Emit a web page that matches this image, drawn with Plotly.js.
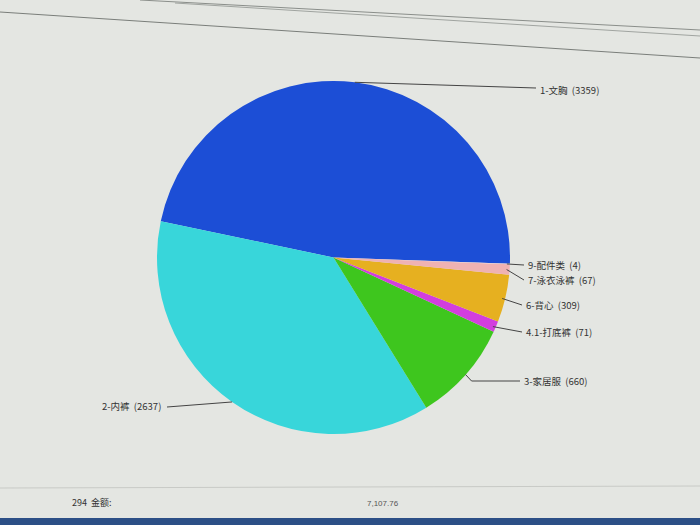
<!DOCTYPE html>
<html><head><meta charset="utf-8">
<script src="https://cdn.plot.ly/plotly-3.0.1.min.js"></script>
<style>html,body{margin:0;padding:0;background:#e4e6e2;}</style>
</head><body><div id="chart" style="width:700px;height:525px;"></div>
<script>
// Data
const categories = ["1-文胸", "2-内裤", "3-家居服", "4.1-打底裤", "6-背心", "7-泳衣泳裤", "9-配件类"];
const values = [3359, 2637, 660, 71, 309, 67, 4];
const colors = ["#1c4ed6", "#38d6da", "#3ec61e", "#d23ede", "#e6b020", "#efb2b2", "#f4d4d4"];

// Layout constants (pixel positions in 700x525)
const W = 700, H = 525;
const pie = {x0: 157, x1: 510, y0: 80, y1: 435};
const startAngle = -2;            // math angle (deg, ccw from 3 o'clock) where first slice begins
const total = values.reduce((a, b) => a + b, 0);
// plotly (ccw) places the end of the first slice at 90 - rotation
const plotlyRotation = 90 - startAngle - values[0] / total * 360;
// label anchor (text start / end), in px
const labelPos = [
  {x: 538, y: 90, side: "left"},
  {x: 163, y: 406, side: "right"},
  {x: 522, y: 381, side: "left"},
  {x: 524, y: 332, side: "left"},
  {x: 524, y: 305, side: "left"},
  {x: 526, y: 280, side: "left"},
  {x: 526, y: 265, side: "left"}
];

const cx = (pie.x0 + pie.x1) / 2, cy = (pie.y0 + pie.y1) / 2;
const R = Math.min(pie.x1 - pie.x0, pie.y1 - pie.y0) / 2;
const px = v => v / W, py = v => 1 - v / H;

const shapes = [], annotations = [];
let acc = 0;
values.forEach((v, i) => {
  const start = startAngle + acc / total * 360;
  const mid = start + v / total * 180;
  acc += v;
  const a = mid * Math.PI / 180;
  const ex = cx + R * Math.cos(a), ey = cy - R * Math.sin(a);
  const lp = labelPos[i];
  let path;
  if (i === 0) {
    path = `M ${px(ex)} ${py(ey)} L ${px(lp.x - 2)} ${py(lp.y - 2)}`;
  } else if (i === 1) {
    path = `M ${px(ex)} ${py(ey)} L ${px(lp.x + 4)} ${py(lp.y + 1)}`;
  } else if (i === 2) {
    path = `M ${px(ex)} ${py(ey)} L ${px(ex + 6)} ${py(lp.y)} L ${px(lp.x - 2)} ${py(lp.y)}`;
  } else {
    path = `M ${px(ex - 3)} ${py(ey)} L ${px(lp.x - 2)} ${py(lp.y)}`;
  }
  shapes.push({type: "path", xref: "paper", yref: "paper", path: path,
    line: {color: "#444", width: 1}});
  annotations.push({xref: "paper", yref: "paper", x: px(lp.x), y: py(lp.y),
    xanchor: lp.side, yanchor: "middle", showarrow: false,
    text: categories[i] + "  (" + values[i] + ")",
    font: {family: "Noto Sans CJK SC, Liberation Serif", size: 9.5, color: "#333"}});
});

// screen decorations
shapes.push({type: "line", xref: "paper", yref: "paper", x0: 0, y0: py(12), x1: 1, y1: py(58), line: {color: "#7a7e7a", width: 1}});
shapes.push({type: "line", xref: "paper", yref: "paper", x0: 0.2, y0: py(0), x1: 1, y1: py(30), line: {color: "#8a8e8a", width: 1}});
shapes.push({type: "line", xref: "paper", yref: "paper", x0: 0.25, y0: py(3), x1: 1, y1: py(36), line: {color: "#a0a4a0", width: 1}});
shapes.push({type: "line", xref: "paper", yref: "paper", x0: 0, y0: py(488), x1: 1, y1: py(486), line: {color: "#c8cac6", width: 1}});
shapes.push({type: "rect", xref: "paper", yref: "paper", x0: 0, y0: 0, x1: 1, y1: py(518), line: {width: 0}, fillcolor: "#2c4f86"});
annotations.push({xref: "paper", yref: "paper", x: px(70), y: py(502), xanchor: "left", yanchor: "middle", showarrow: false,
  text: "294  金额:", font: {family: "Noto Sans CJK SC", size: 9, color: "#333"}});
annotations.push({xref: "paper", yref: "paper", x: px(365), y: py(503), xanchor: "left", yanchor: "middle", showarrow: false,
  text: (total + 0.76).toLocaleString("en-US", {minimumFractionDigits: 2}), font: {family: "Liberation Sans", size: 8, color: "#555"}});

const trace = {
  type: "pie",
  labels: categories,
  values: values,
  sort: false,
  direction: "counterclockwise",
  rotation: plotlyRotation,
  marker: {colors: colors, line: {width: 0}},
  textinfo: "none",
  hoverinfo: "label+value",
  domain: {x: [px(pie.x0), px(pie.x1)], y: [py(pie.y1), py(pie.y0)]}
};

Plotly.newPlot("chart", [trace], {
  width: W, height: H,
  margin: {l: 0, r: 0, t: 0, b: 0},
  paper_bgcolor: "#e4e6e2",
  showlegend: false,
  shapes: shapes,
  annotations: annotations
}, {displayModeBar: false});
</script>
</body></html>
